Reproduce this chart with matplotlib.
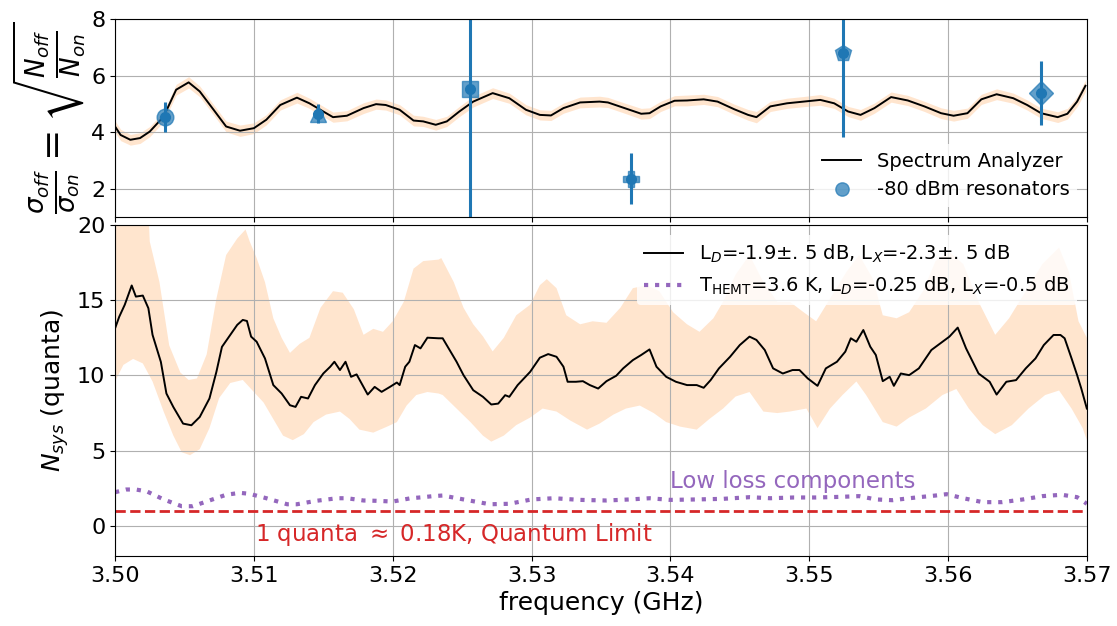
import numpy as np
import matplotlib
matplotlib.use("Agg")
import matplotlib.pyplot as plt

# --- top panel: spectrum analyzer ratio ---
sa_f = [3.5000, 3.5004, 3.5011, 3.5018, 3.5025, 3.5035, 3.5044, 3.5053, 3.5061, 3.5071,
        3.5080, 3.5090, 3.5100, 3.5109, 3.5119, 3.5131, 3.5140, 3.5150, 3.5157, 3.5167,
        3.5179, 3.5188, 3.5195, 3.5205, 3.5215, 3.5222, 3.5231, 3.5239, 3.5248, 3.5258,
        3.5272, 3.5284, 3.5296, 3.5306, 3.5314, 3.5323, 3.5335, 3.5349, 3.5355, 3.5367,
        3.5379, 3.5385, 3.5393, 3.5403, 3.5412, 3.5424, 3.5434, 3.5446, 3.5456, 3.5462,
        3.5472, 3.5484, 3.5496, 3.5508, 3.5518, 3.5528, 3.5537, 3.5547, 3.5559, 3.5571,
        3.5583, 3.5595, 3.5604, 3.5614, 3.5624, 3.5635, 3.5647, 3.5657, 3.5667, 3.5679,
        3.5686, 3.5693, 3.5699]
sa_v = [4.20, 3.90, 3.73, 3.79, 4.02, 4.55, 5.50, 5.76, 5.44, 4.79,
        4.20, 4.05, 4.14, 4.44, 4.96, 5.22, 5.02, 4.73, 4.53, 4.58,
        4.85, 4.99, 4.96, 4.79, 4.41, 4.38, 4.26, 4.38, 4.73, 5.08,
        5.38, 5.20, 4.79, 4.61, 4.59, 4.85, 5.05, 5.08, 5.05, 4.85,
        4.65, 4.67, 4.91, 5.11, 5.12, 5.16, 5.08, 4.81, 4.61, 4.53,
        4.91, 5.02, 5.08, 5.14, 5.02, 4.73, 4.61, 4.85, 5.24, 5.12,
        4.91, 4.67, 4.58, 4.67, 5.16, 5.34, 5.20, 4.96, 4.67, 4.53,
        4.65, 5.08, 5.64]
sa_err = [0.20, 0.20, 0.19, 0.19, 0.18, 0.18, 0.19, 0.20, 0.19, 0.18,
          0.19, 0.20, 0.19, 0.18, 0.18, 0.19, 0.18, 0.18, 0.18, 0.18,
          0.19, 0.18, 0.18, 0.18, 0.19, 0.18, 0.19, 0.18, 0.18, 0.19,
          0.19, 0.18, 0.18, 0.18, 0.18, 0.18, 0.19, 0.19, 0.18, 0.18,
          0.19, 0.19, 0.18, 0.18, 0.19, 0.18, 0.18, 0.18, 0.19, 0.20,
          0.18, 0.18, 0.18, 0.19, 0.18, 0.18, 0.19, 0.18, 0.18, 0.18,
          0.18, 0.19, 0.19, 0.18, 0.18, 0.19, 0.18, 0.18, 0.18, 0.19,
          0.19, 0.18, 0.20]

# -80 dBm resonator points
res_f = [3.5036, 3.5146, 3.5256, 3.5372, 3.5524, 3.5667]
res_v = [4.55, 4.65, 5.52, 2.35, 6.79, 5.40]
res_err = [0.53, 0.34, 5.0, 0.90, 2.97, 1.13]
res_markers = ['o', '^', 's', 'P', 'p', 'D']

# --- bottom panel: N_sys ---
ns_f = [3.5000, 3.5003, 3.5007, 3.5012, 3.5015, 3.5020, 3.5024, 3.5027, 3.5033, 3.5037,
        3.5042, 3.5049, 3.5055, 3.5061, 3.5068, 3.5073, 3.5077, 3.5083, 3.5088, 3.5092,
        3.5095, 3.5098, 3.5102, 3.5108, 3.5114, 3.5120, 3.5126, 3.5130, 3.5134, 3.5139,
        3.5144, 3.5150, 3.5155, 3.5158, 3.5162, 3.5166, 3.5170, 3.5174, 3.5179, 3.5182,
        3.5187, 3.5192, 3.5198, 3.5203, 3.5205, 3.5209, 3.5212, 3.5216, 3.5220, 3.5225,
        3.5233, 3.5236, 3.5241, 3.5246, 3.5251, 3.5258, 3.5265, 3.5271, 3.5276, 3.5281,
        3.5284, 3.5290, 3.5299, 3.5306, 3.5312, 3.5318, 3.5323, 3.5326, 3.5332, 3.5337,
        3.5342, 3.5348, 3.5354, 3.5361, 3.5366, 3.5373, 3.5379, 3.5385, 3.5390, 3.5397,
        3.5404, 3.5412, 3.5419, 3.5424, 3.5429, 3.5435, 3.5443, 3.5450, 3.5457, 3.5462,
        3.5468, 3.5474, 3.5481, 3.5488, 3.5493, 3.5499, 3.5506, 3.5512, 3.5520, 3.5526,
        3.5530, 3.5534, 3.5539, 3.5544, 3.5548, 3.5553, 3.5558, 3.5561, 3.5566, 3.5572,
        3.5579, 3.5588, 3.5596, 3.5601, 3.5607, 3.5613, 3.5622, 3.5630, 3.5635, 3.5642,
        3.5649, 3.5656, 3.5663, 3.5669, 3.5676, 3.5681, 3.5684, 3.5689, 3.5693, 3.5696,
        3.5700]
ns_v = [13.13, 13.90, 14.70, 15.98, 15.24, 15.31, 14.47, 12.70, 10.90, 8.80,
        7.90, 6.80, 6.69, 7.24, 8.47, 10.24, 11.90, 12.70, 13.36, 13.69,
        13.62, 12.58, 12.24, 11.13, 9.36, 8.80, 8.02, 7.91, 8.58, 8.47,
        9.36, 10.13, 10.58, 10.91, 10.36, 10.91, 9.91, 10.07, 9.24, 8.73,
        9.24, 8.91, 9.24, 9.53, 9.36, 10.58, 10.91, 12.02, 11.80, 12.51,
        12.47, 12.47, 11.69, 10.91, 10.02, 9.02, 8.58, 8.07, 8.13, 8.69,
        8.58, 9.36, 10.24, 11.18, 11.42, 11.24, 10.58, 9.58, 9.58, 9.62,
        9.36, 9.13, 9.62, 9.98, 10.47, 11.02, 11.36, 11.73, 10.58, 9.91,
        9.58, 9.36, 9.36, 9.18, 9.69, 10.47, 11.24, 12.02, 12.58, 12.36,
        11.69, 10.47, 10.13, 10.36, 10.36, 9.80, 9.31, 10.47, 10.91, 11.58,
        12.47, 12.24, 13.02, 11.91, 11.36, 9.62, 9.91, 9.31, 10.13, 10.02,
        10.47, 11.69, 12.24, 12.58, 13.18, 11.80, 10.13, 9.58, 8.73, 9.58,
        9.69, 10.47, 11.13, 12.02, 12.69, 12.69, 12.47, 11.13, 10.02, 9.13,
        7.80]

band_hi_f = [3.5000, 3.5024, 3.5025, 3.5032, 3.5039, 3.5047, 3.5053, 3.5059, 3.5066, 3.5073,
             3.5080, 3.5088, 3.5094, 3.5097, 3.5102, 3.5108, 3.5114, 3.5120, 3.5126, 3.5133,
             3.5140, 3.5148, 3.5157, 3.5164, 3.5172, 3.5179, 3.5186, 3.5193, 3.5200, 3.5208,
             3.5215, 3.5222, 3.5233, 3.5235, 3.5244, 3.5251, 3.5258, 3.5265, 3.5272, 3.5280,
             3.5289, 3.5299, 3.5306, 3.5311, 3.5318, 3.5325, 3.5335, 3.5344, 3.5354, 3.5364,
             3.5373, 3.5383, 3.5392, 3.5402, 3.5412, 3.5421, 3.5431, 3.5438, 3.5447, 3.5457,
             3.5467, 3.5477, 3.5486, 3.5496, 3.5505, 3.5515, 3.5527, 3.5536, 3.5546, 3.5553,
             3.5563, 3.5572, 3.5582, 3.5591, 3.5601, 3.5611, 3.5622, 3.5634, 3.5644, 3.5656,
             3.5668, 3.5680, 3.5687, 3.5694, 3.5700]
band_hi_v = [21.0, 21.0, 18.9, 16.2, 12.0, 10.2, 9.7, 9.8, 11.4, 15.1,
             18.0, 19.1, 19.7, 18.9, 17.8, 16.2, 13.8, 12.5, 11.5, 12.1,
             12.5, 14.5, 15.6, 15.5, 14.4, 12.7, 13.1, 12.9, 13.6, 14.9,
             17.1, 17.6, 17.7, 17.8, 16.2, 14.5, 13.4, 12.6, 11.6, 12.5,
             14.0, 14.7, 16.0, 16.4, 15.8, 14.0, 13.4, 13.6, 13.5, 14.5,
             15.8, 16.0, 15.6, 14.2, 13.4, 12.9, 13.8, 14.9, 16.7, 18.0,
             16.2, 14.9, 14.9, 14.2, 13.6, 15.1, 16.9, 18.0, 16.4, 14.0,
             13.8, 14.2, 15.6, 17.6, 18.2, 17.4, 14.9, 12.7, 13.8, 15.6,
             17.4, 18.5, 16.9, 13.6, 12.5]

band_lo_f = [3.5000, 3.5006, 3.5013, 3.5020, 3.5027, 3.5035, 3.5042, 3.5048, 3.5054, 3.5061,
             3.5068, 3.5075, 3.5083, 3.5092, 3.5100, 3.5107, 3.5114, 3.5121, 3.5128, 3.5136,
             3.5143, 3.5152, 3.5162, 3.5169, 3.5176, 3.5186, 3.5196, 3.5203, 3.5210, 3.5217,
             3.5225, 3.5233, 3.5236, 3.5246, 3.5256, 3.5265, 3.5271, 3.5280, 3.5289, 3.5299,
             3.5308, 3.5318, 3.5328, 3.5340, 3.5349, 3.5359, 3.5368, 3.5378, 3.5388, 3.5397,
             3.5407, 3.5419, 3.5428, 3.5438, 3.5447, 3.5457, 3.5467, 3.5477, 3.5486, 3.5498,
             3.5506, 3.5515, 3.5524, 3.5534, 3.5541, 3.5553, 3.5563, 3.5572, 3.5584, 3.5596,
             3.5606, 3.5615, 3.5625, 3.5634, 3.5646, 3.5658, 3.5670, 3.5680, 3.5689, 3.5697,
             3.5700]
band_lo_v = [9.6, 10.7, 11.1, 10.8, 9.6, 7.6, 6.0, 4.9, 4.7, 5.1,
             6.5, 8.5, 9.5, 9.7, 8.9, 8.2, 7.1, 6.0, 5.7, 6.1,
             6.9, 7.4, 7.6, 7.1, 6.4, 6.2, 6.6, 6.9, 8.0, 8.7,
             8.9, 8.8, 8.7, 7.8, 6.9, 6.0, 5.6, 6.0, 6.7, 7.2,
             7.8, 7.6, 7.0, 6.4, 6.8, 7.4, 7.8, 8.0, 7.5, 6.9,
             6.6, 6.4, 7.1, 7.8, 8.6, 8.9, 7.6, 7.5, 7.6, 7.8,
             6.5, 7.8, 8.7, 9.6, 8.7, 6.9, 6.6, 7.2, 7.8, 8.7,
             9.1, 7.8, 6.7, 6.1, 6.7, 7.8, 8.7, 9.0, 7.8, 6.5,
             5.7]

ll_f = [3.5000, 3.5008, 3.5015, 3.5023, 3.5035, 3.5048, 3.5056, 3.5068, 3.5080, 3.5090,
        3.5097, 3.5109, 3.5124, 3.5131, 3.5145, 3.5160, 3.5167, 3.5179, 3.5188, 3.5200,
        3.5213, 3.5222, 3.5229, 3.5236, 3.5251, 3.5270, 3.5284, 3.5300, 3.5316, 3.5335,
        3.5354, 3.5371, 3.5385, 3.5400, 3.5419, 3.5438, 3.5457, 3.5472, 3.5489, 3.5505,
        3.5522, 3.5536, 3.5548, 3.5560, 3.5577, 3.5591, 3.5599, 3.5611, 3.5625, 3.5639,
        3.5654, 3.5668, 3.5682, 3.5693, 3.5700]
ll_v = [2.24, 2.42, 2.42, 2.29, 1.76, 1.31, 1.31, 1.69, 2.07, 2.20,
        2.13, 1.84, 1.44, 1.44, 1.67, 1.84, 1.84, 1.69, 1.67, 1.62,
        1.84, 1.91, 1.98, 2.02, 1.76, 1.44, 1.47, 1.76, 1.84, 1.73,
        1.69, 1.76, 1.84, 1.73, 1.76, 1.80, 1.91, 1.84, 1.89, 1.89,
        1.93, 1.98, 1.76, 1.71, 1.89, 2.02, 2.11, 1.84, 1.58, 1.58,
        1.76, 1.98, 2.07, 1.91, 1.47]

quantum_limit = 1.0
xticks = [3.50, 3.51, 3.52, 3.53, 3.54, 3.55, 3.56, 3.57]

band_color = (1.0, 0.498, 0.055, 0.2)

fig = plt.figure(figsize=(11.17, 6.26), dpi=100)
ax1 = fig.add_axes([0.103, 0.6534, 0.870, 0.3162])
ax2 = fig.add_axes([0.103, 0.1118, 0.870, 0.5288])

# top panel
sa_lo = np.array(sa_v) - np.array(sa_err)
sa_hi = np.array(sa_v) + np.array(sa_err)
ax1.fill_between(sa_f, sa_lo, sa_hi, color=band_color, lw=0)
ax1.plot(sa_f, sa_v, color='k', lw=1.4, label='Spectrum Analyzer')
for i in range(len(res_f)):
    ax1.errorbar(res_f[i], res_v[i], yerr=res_err[i], fmt='o', color='C0',
                 ms=7, elinewidth=2.2)
    ax1.plot(res_f[i], res_v[i], marker=res_markers[i], color='C0', alpha=0.7,
             ms=12, ls='none', label='-80 dBm resonators' if i == 0 else None)
ax1.set_xlim(3.50, 3.57)
ax1.set_ylim(1, 8)
ax1.set_yticks([2, 4, 6, 8])
ax1.set_xticks(xticks)
ax1.tick_params(labelbottom=False, labelsize=16)
ax1.grid(True)
ax1.set_ylabel(r'$\frac{\sigma_{off}}{\sigma_{on}} = \sqrt{\frac{N_{off}}{N_{on}}}$',
               fontsize=27, labelpad=2)
ax1.legend(loc='lower right', fontsize=14, markerscale=0.8, edgecolor='none')

# bottom panel
ax2.fill(np.concatenate([band_hi_f, band_lo_f[::-1]]),
         np.concatenate([band_hi_v, band_lo_v[::-1]]), color=band_color, lw=0)
ax2.plot(ns_f, ns_v, color='k', lw=1.4,
         label=r'L$_D$=-1.9$\pm$. 5 dB, L$_X$=-2.3$\pm$. 5 dB')
ax2.plot(ll_f, ll_v, color='C4', ls=':', lw=3,
         label=r'T$_{\rm HEMT}$=3.6 K, L$_D$=-0.25 dB, L$_X$=-0.5 dB')
ax2.axhline(quantum_limit, color='C3', ls='--', lw=2)
ax2.text(3.540, 2.5, 'Low loss components', color='C4', fontsize=16.5)
ax2.text(3.5101, -0.6, r'1 quanta $\approx$ 0.18K, Quantum Limit', color='C3',
         fontsize=16.5, va='center')
ax2.set_xlim(3.50, 3.57)
ax2.set_ylim(-2, 20)
ax2.set_yticks([0, 5, 10, 15, 20])
ax2.set_xticks(xticks)
ax2.set_xticklabels([f'{t:.2f}' for t in xticks])
ax2.tick_params(labelsize=16)
ax2.grid(True)
ax2.set_xlabel('frequency (GHz)', fontsize=18)
ax2.set_ylabel(r'$N_{sys}$ (quanta)', fontsize=18)
ax2.legend(loc='upper right', fontsize=14, edgecolor='none')

fig.savefig('out.png', dpi=100)
